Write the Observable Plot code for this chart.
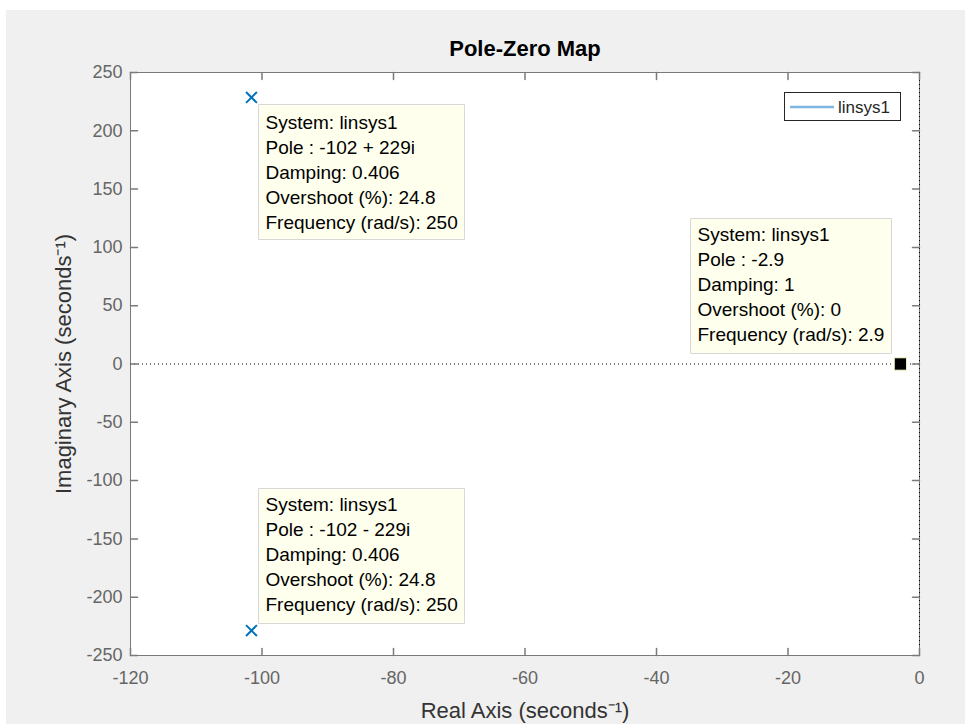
<!DOCTYPE html>
<html>
<head>
<meta charset="utf-8">
<script src="https://cdn.jsdelivr.net/npm/d3@7"></script>
<script src="https://cdn.jsdelivr.net/npm/@observablehq/plot@0.6"></script>
<style>
  html, body { margin: 0; padding: 0; background: #ffffff; }
  #fig { position: absolute; left: 6px; top: 10px; width: 959px; height: 714px; background: #f0f0f0; }
</style>
</head>
<body>
<div id="fig"></div>
<script>
// Pole-zero map of linsys1 (three poles, no zeros)
const systemName = "linsys1";
const poleRe = [-101.6, -101.6, -2.9];
const poleIm = [228.6, -228.6, 0];
const damping = [0.406, 0.406, 1];
const overshoot = [24.8, 24.8, 0];
const frequency = [250, 250, 2.9];

const xTicks = [-120, -100, -80, -60, -40, -20, 0];
const yTicks = [-250, -200, -150, -100, -50, 0, 50, 100, 150, 200, 250];

const titleText = "Pole-Zero Map";
const xLabel = "Real Axis (seconds\u207B\u00B9)";
const yLabel = "Imaginary Axis (seconds\u207B\u00B9)";

const FONT = "'Liberation Sans', Arial, Helvetica, sans-serif";
const poleColor = "#0072BD";
const axisColor = "#7a7a7a";
const tickTextColor = "#666666";

// three significant digits, as in the data tips
const fmt = v => String(+(+v).toPrecision(3));

const poles = poleRe.map((re, i) => {
  const im = poleIm[i];
  const poleStr = im === 0 ? fmt(re) : `${fmt(re)} ${im > 0 ? "+" : "-"} ${fmt(Math.abs(im))}i`;
  return {
    re, im,
    label: [
      `System: ${systemName}`,
      `Pole : ${poleStr}`,
      `Damping: ${fmt(damping[i])}`,
      `Overshoot (%): ${fmt(overshoot[i])}`,
      `Frequency (rad/s): ${fmt(frequency[i])}`
    ].join("\n")
  };
});

// short inward tick stroke for the vector mark
const tickShape = {draw(context, l) { context.moveTo(0, 0); context.lineTo(0, -l); }};
const tickLen = 7;

const tipStyle = {
  x: "re", y: "im", title: "label",
  pointerSize: 0, fill: "#ffffee", stroke: "#d8d8d8", pathFilter: "none",
  fontSize: 19, lineHeight: 25 / 19, textPadding: 7, fontFamily: FONT
};

const chart = Plot.plot({
  width: 959, height: 714,
  marginLeft: 124, marginRight: 46, marginTop: 62, marginBottom: 69,
  x: {domain: [-120, 0]},
  y: {domain: [-250, 250]},
  style: {background: "transparent", fontFamily: FONT, overflow: "visible"},
  marks: [
    Plot.frame({fill: "white", stroke: null}),
    Plot.frame({stroke: axisColor, strokeWidth: 1}),
    // real and imaginary axes
    Plot.ruleY([0], {stroke: "black", strokeDasharray: "1,3", strokeWidth: 1}),
    Plot.ruleX([0], {stroke: "black", strokeDasharray: "1,3", strokeWidth: 1}),
    // inward ticks on all four sides
    Plot.vector(xTicks, {x: d => d, frameAnchor: "bottom", rotate: 0, length: tickLen, anchor: "start", shape: tickShape, stroke: axisColor}),
    Plot.vector(xTicks, {x: d => d, frameAnchor: "top", rotate: 180, length: tickLen, anchor: "start", shape: tickShape, stroke: axisColor}),
    Plot.vector(yTicks, {y: d => d, frameAnchor: "left", rotate: 90, length: tickLen, anchor: "start", shape: tickShape, stroke: axisColor}),
    Plot.vector(yTicks, {y: d => d, frameAnchor: "right", rotate: -90, length: tickLen, anchor: "start", shape: tickShape, stroke: axisColor}),
    Plot.axisX(xTicks, {anchor: "bottom", tickSize: 0, tickPadding: 16, tickFormat: d => String(d), fontSize: 18, color: tickTextColor, label: null}),
    Plot.axisY(yTicks, {anchor: "left", tickSize: 0, tickPadding: 8, tickFormat: d => String(d), fontSize: 18, color: tickTextColor, label: null}),
    // poles
    Plot.dot(poles, {x: "re", y: "im", symbol: "times", r: 5, stroke: poleColor, strokeWidth: 2}),
    // selected data tip marker
    Plot.dot(poles.filter(p => p.im === 0), {x: "re", y: "im", symbol: "square", r: 7, fill: "black", stroke: "#ffffcc", strokeWidth: 1}),
    // data tips
    Plot.tip(poles.filter(p => p.im > 0), {...tipStyle, anchor: "top-left", dx: 7, dy: 7}),
    Plot.tip(poles.filter(p => p.im < 0), {...tipStyle, anchor: "bottom-left", dx: 7, dy: -7}),
    Plot.tip(poles.filter(p => p.im === 0), {...tipStyle, anchor: "bottom-right", dx: -9, dy: -11}),
    // title and axis labels
    Plot.text([titleText], {text: d => d, frameAnchor: "top", dy: -24, lineAnchor: "middle", fontSize: 22, fontWeight: "bold", fill: "black"}),
    Plot.text([xLabel], {text: d => d, frameAnchor: "bottom", dy: 55, lineAnchor: "middle", fontSize: 22, fill: "#333333"}),
    Plot.text([yLabel], {text: d => d, frameAnchor: "left", dx: -67, rotate: -90, textAnchor: "middle", lineAnchor: "middle", fontSize: 22, fill: "#333333"})
  ]
});

document.getElementById("fig").appendChild(chart);

// legend box in the upper-right corner of the axes
const svg = d3.select(chart);
const frameRight = 959 - 46, frameTop = 62;
const lg = svg.append("g").attr("transform", `translate(${frameRight - 135},${frameTop + 20})`);
lg.append("rect").attr("x", 0.5).attr("y", 0.5).attr("width", 116).attr("height", 28)
  .attr("fill", "white").attr("stroke", "#262626").attr("stroke-width", 1);
lg.append("line").attr("x1", 6).attr("x2", 50).attr("y1", 15).attr("y2", 15)
  .attr("stroke", "#7db8e3").attr("stroke-width", 2.5);
lg.append("text").attr("x", 54).attr("y", 15).attr("dy", "0.35em")
  .attr("text-anchor", "start").attr("font-size", 17).attr("font-family", FONT)
  .attr("fill", "#262626").text(systemName);
</script>
</body>
</html>
